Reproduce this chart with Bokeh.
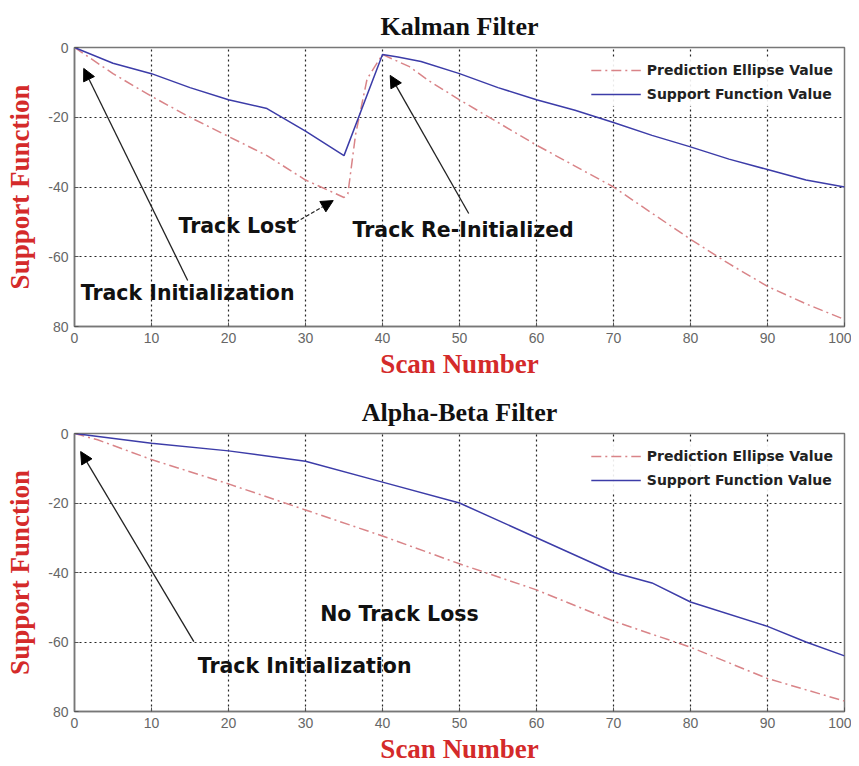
from bokeh.plotting import figure
from bokeh.layouts import column
from bokeh.models import Arrow, NormalHead, Range1d, FixedTicker, Legend
from bokeh.core.properties import value
from bokeh.embed import file_html
from bokeh.resources import INLINE

# ---------------- data ----------------
x_ticks = [0, 10, 20, 30, 40, 50, 60, 70, 80, 90, 100]
y_ticks = [0, -20, -40, -60, -80]
y_tick_labels = ["0", "-20", "-40", "-60", "80"]

# Kalman filter
kf_sup_x = [0, 5, 10, 15, 20, 25, 30, 35, 40, 42, 45, 50, 55, 60, 65, 70, 75, 80, 85, 90, 95, 100]
kf_sup_y = [0, -4.5, -7.5, -11.5, -15, -17.5, -24, -31, -2, -2.7, -4, -7.5, -11.5, -15, -18, -21.5, -25.2, -28.5, -32, -35, -38, -40]
kf_pred_x = [0, 5, 10, 15, 20, 25, 30, 35, 35.5, 36.5, 38, 40, 43.5, 46, 50, 55, 60, 65, 70, 75, 80, 85, 90, 95, 100]
kf_pred_y = [0, -7.5, -14, -20, -25.5, -31, -38, -43, -42, -25, -9, -2, -5.5, -9.5, -15, -21.5, -28, -34, -40, -47.5, -55, -62, -68.5, -73.5, -78]

# Alpha-Beta filter
ab_sup_x = [0, 10, 20, 30, 40, 50, 60, 70, 75, 80, 90, 95, 100]
ab_sup_y = [0, -2.8, -5, -8, -14, -20, -30, -40, -43, -48.5, -55.5, -60, -64]
ab_pred_x = [0, 3, 10, 20, 30, 40, 50, 60, 70, 80, 90, 100]
ab_pred_y = [0, -1.8, -7.5, -14.5, -22, -29.5, -37.5, -45, -54, -61.5, -70.5, -77]

# annotations
kf_text = ["Track Initialization", "Track Lost", "Track Re-Initialized"]
kf_text_x = [0.8, 13.5, 36.1]
kf_text_y = [-70.5, -51.3, -52.2]
kf_arrow_x0 = [14.7, 28.7, 51.2]
kf_arrow_y0 = [-66.8, -50.2, -47.6]
kf_arrow_x1 = [1.2, 33.6, 41.0]
kf_arrow_y1 = [-6.0, -43.9, -8.0]
kf_arrow_dash = ["solid", "4 2", "solid"]

ab_text = ["No Track Loss", "Track Initialization"]
ab_text_x = [31.9, 16.0]
ab_text_y = [-51.8, -66.8]
ab_arrow_x0 = [15.5]
ab_arrow_y0 = [-59.9]
ab_arrow_x1 = [0.8]
ab_arrow_y1 = [-5.2]
ab_arrow_dash = ["solid"]

PRED_COLOR = "#d98488"
SUP_COLOR = "#3c3ca8"
LABEL_RED = "#d42a2a"


def make_panel(title, sup_x, sup_y, pred_x, pred_y, texts, tx, ty,
               ax0, ay0, ax1, ay1, adash, height, border_top, border_bottom):
    p = figure(width=851, height=height, output_backend="svg", toolbar_location=None,
               x_range=Range1d(0, 100), y_range=Range1d(-80, 0),
               min_border_left=74, min_border_right=7,
               min_border_top=border_top, min_border_bottom=border_bottom)
    p.title.text = title
    p.title.align = "center"
    p.title.text_font = "Liberation Serif"
    p.title.text_font_size = "26px"
    p.title.text_font_style = "bold"
    p.title.text_color = "#111111"
    p.title.standoff = 14

    for ax in (p.xaxis, p.yaxis):
        ax.axis_line_color = "#777777"
        ax.axis_line_width = 1.5
        ax.major_tick_in = 4
        ax.major_tick_out = 0
        ax.minor_tick_line_color = None
        ax.major_tick_line_color = "#555555"
        ax.major_label_text_font = "Liberation Sans"
        ax.major_label_text_font_size = "14px"
        ax.major_label_text_color = "#666666"
        ax.axis_label_text_font = "Liberation Serif"
        ax.axis_label_text_font_size = "27px"
        ax.axis_label_text_font_style = "bold"
        ax.axis_label_text_color = LABEL_RED

    p.xaxis.ticker = FixedTicker(ticks=x_ticks)
    p.yaxis.ticker = FixedTicker(ticks=y_ticks)
    p.yaxis.major_label_overrides = {t: l for t, l in zip(y_ticks, y_tick_labels)}
    p.xaxis.axis_label = "Scan Number"
    p.yaxis.axis_label = "Support Function"
    p.xaxis.major_label_standoff = 6
    p.xaxis.axis_label_standoff = 3
    p.yaxis.major_label_standoff = 6
    p.yaxis.axis_label_standoff = 10

    p.outline_line_color = "#777777"
    p.outline_line_width = 1.5
    p.xgrid.ticker = FixedTicker(ticks=x_ticks)
    p.ygrid.ticker = FixedTicker(ticks=y_ticks)
    for g in (p.xgrid, p.ygrid):
        g.grid_line_color = "#000000"
        g.grid_line_dash = "2 3"
        g.grid_line_width = 1.2
        g.grid_line_alpha = 0.85

    r_pred = p.line(pred_x, pred_y, line_color=PRED_COLOR, line_width=1.5, line_dash="10 4 2 4")
    r_sup = p.line(sup_x, sup_y, line_color=SUP_COLOR, line_width=1.5)

    legend = Legend(items=[("Prediction Ellipse Value", [r_pred]),
                           ("Support Function Value", [r_sup])],
                    location="top_right")
    legend.border_line_color = None
    legend.background_fill_color = "white"
    legend.background_fill_alpha = 0.9
    legend.label_text_font = "DejaVu Sans"
    legend.label_text_font_size = "14px"
    legend.label_text_font_style = "bold"
    legend.label_text_color = "#222222"
    legend.glyph_width = 50
    legend.glyph_height = 24
    legend.label_height = 24
    legend.spacing = 0
    legend.padding = 9
    legend.margin = 11
    legend.label_standoff = 6
    p.add_layout(legend)

    p.text(x=tx, y=ty, text=texts, text_font=value("DejaVu Sans"),
           text_font_size="20.5px", text_font_style="bold", text_color="#111111",
           text_baseline="middle", text_align="left")

    for x0, y0, x1, y1, d in zip(ax0, ay0, ax1, ay1, adash):
        p.add_layout(Arrow(end=NormalHead(size=12, fill_color="black", line_color="black"),
                           x_start=x0, y_start=y0, x_end=x1, y_end=y1,
                           line_color="#222222", line_width=1.3, line_dash=d))
    return p


p1 = make_panel("Kalman Filter", kf_sup_x, kf_sup_y, kf_pred_x, kf_pred_y,
                kf_text, kf_text_x, kf_text_y,
                kf_arrow_x0, kf_arrow_y0, kf_arrow_x1, kf_arrow_y1, kf_arrow_dash,
                height=385, border_top=47, border_bottom=59)
p2 = make_panel("Alpha-Beta Filter", ab_sup_x, ab_sup_y, ab_pred_x, ab_pred_y,
                ab_text, ab_text_x, ab_text_y,
                ab_arrow_x0, ab_arrow_y0, ab_arrow_x1, ab_arrow_y1, ab_arrow_dash,
                height=381, border_top=48, border_bottom=53)

layout = column(p1, p2, spacing=0)
open("out.html", "w").write(file_html(layout, INLINE))
